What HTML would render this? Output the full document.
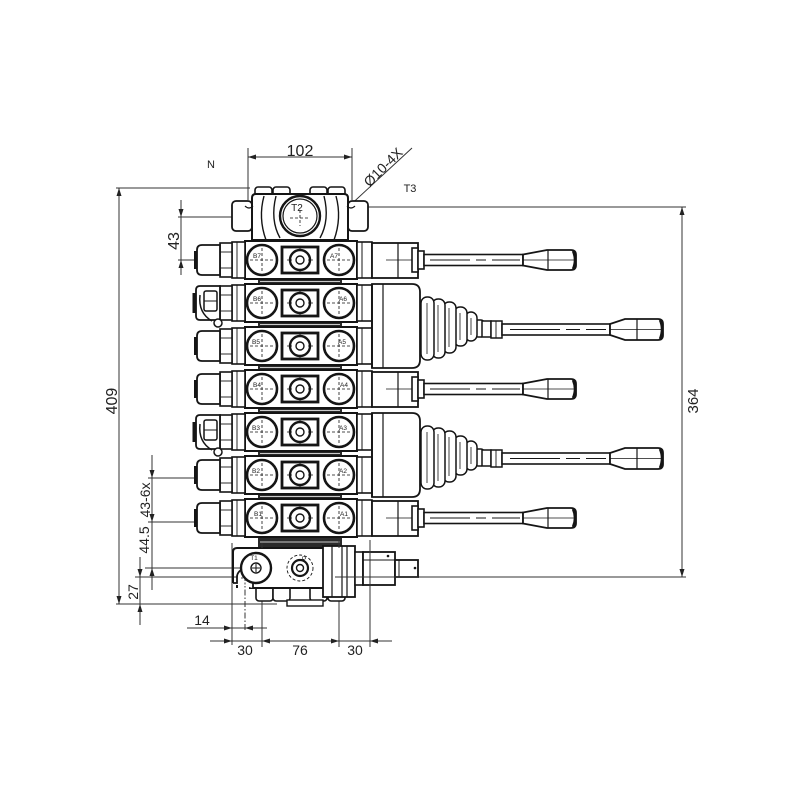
<!DOCTYPE html>
<html><head><meta charset="utf-8"><style>
html,body{margin:0;padding:0;background:#fff;}
svg{display:block;}
text{font-family:"Liberation Sans","DejaVu Sans",sans-serif;fill:#222;}
</style></head><body>
<svg width="800" height="800" viewBox="0 0 800 800" xmlns="http://www.w3.org/2000/svg">
<rect width="800" height="800" fill="#fff"/>
<defs>
 <g id="body" stroke="#151515" fill="#fff">
  <rect x="245" y="-19" width="112" height="38" stroke-width="2"/>
  <rect x="357" y="-18" width="15" height="36" stroke-width="1.6"/>
  <line x1="362" y1="-18" x2="362" y2="18" stroke-width="1"/>
  <rect x="232" y="-18" width="13" height="36" stroke-width="1.6"/>
  <line x1="237" y1="-18" x2="237" y2="18" stroke-width="0.9"/>
  <rect x="220" y="-17" width="12" height="34" stroke-width="1.6"/>
  <line x1="220" y1="-8" x2="232" y2="-8" stroke-width="0.9"/>
  <line x1="220" y1="8" x2="232" y2="8" stroke-width="0.9"/>
  <circle cx="262" cy="0" r="15" stroke-width="2.6"/>
  <circle cx="339" cy="0" r="15" stroke-width="2.6"/>
  <path d="M250 0H274M262 -12V12M327 0H351M339 -12V12" stroke-width="0.8" stroke-dasharray="3 2" fill="none"/>
  <rect x="282" y="-13" width="36" height="26" stroke-width="2.8" fill="none"/>
  <circle cx="300" cy="0" r="10" stroke-width="2.4"/>
  <circle cx="300" cy="0" r="4" stroke-width="1.4"/>
  <path d="M287 0H292M308 0H313M300 -12V-10M300 10V12" stroke-width="0.8" fill="none"/>
 </g>
 <g id="lcap" stroke="#151515" fill="#fff">
  <path d="M220 -15H202Q197 -15 197 -10V10Q197 15 202 15H220Z" stroke-width="1.8"/>
  <rect x="194" y="-9" width="3.5" height="18" fill="#151515" stroke="none"/>
 </g>
 <g id="lcapj" stroke="#151515" fill="#fff">
  <path d="M220 -17H200Q196 -17 196 -13V13Q196 17 200 17H220Z" stroke-width="1.8"/>
  <rect x="192.5" y="-10" width="3.5" height="20" fill="#151515" stroke="none"/>
  <rect x="204" y="-12" width="13" height="20" rx="2" stroke-width="1.5"/>
  <line x1="204" y1="-2" x2="217" y2="-2" stroke-width="1"/>
  <path d="M200 -8Q198 10 212 18" fill="none" stroke-width="1.5"/>
  <circle cx="218" cy="20" r="4" stroke-width="1.5"/>
 </g>
 <g id="lever" stroke="#151515" fill="#fff">
  <rect x="372" y="-17" width="46" height="35" stroke-width="1.8"/>
  <line x1="398" y1="-17" x2="398" y2="18" stroke-width="1.2"/>
  <line x1="386" y1="0" x2="413" y2="0" stroke-width="0.8"/>
  <rect x="412" y="-12" width="6" height="24" stroke-width="1.6"/>
  <rect x="418" y="-9" width="6" height="18" stroke-width="1.6"/>
  <rect x="424" y="-5.5" width="99" height="11" stroke-width="1.6"/>
  <path d="M430 0H470M476 0H486M492 0H520" stroke-width="0.9" fill="none"/>
  <path d="M523 -5.5L547 -10H571Q576 -10 576 -5V5Q576 10 571 10H547L523 5.5Z" stroke-width="1.8"/>
  <line x1="548" y1="-10" x2="548" y2="10" stroke-width="1.2"/>
  <line x1="523" y1="0" x2="574" y2="0" stroke-width="0.8"/>
  <path d="M573 -9Q577 0 573 9" stroke-width="2.5" fill="none"/>
 </g>
 <g id="joy" stroke="#151515" fill="#fff">
  <path d="M372 -45H412Q420 -45 420 -37V31Q420 39 412 39H372Z" stroke-width="1.8"/>
  <line x1="383" y1="-45" x2="383" y2="39" stroke-width="1.2"/>
  <line x1="372" y1="-45" x2="372" y2="39" stroke-width="1.8"/>
  <rect x="475" y="-9" width="9" height="17" rx="3" stroke-width="1.5"/>
  <rect x="465" y="-17" width="12" height="29" rx="6" stroke-width="1.5"/>
  <rect x="454" y="-22" width="13" height="39" rx="6" stroke-width="1.5"/>
  <rect x="443" y="-27" width="13" height="51" rx="6" stroke-width="1.5"/>
  <rect x="432" y="-30" width="13" height="59" rx="6" stroke-width="1.5"/>
  <rect x="421" y="-32" width="13" height="63" rx="6" stroke-width="1.5"/>
  <path d="M427 -26V25M438 -24V23M449 -21V18M460 -16V11M471 -11V6" stroke-width="0.8" fill="none"/>
  <rect x="482" y="-8" width="9" height="16" stroke-width="1.5"/>
  <rect x="491" y="-8" width="11" height="17" stroke-width="1.5"/>
  <line x1="496" y1="-8" x2="496" y2="9" stroke-width="0.9"/>
  <rect x="502" y="-5" width="108" height="11" stroke-width="1.6"/>
  <path d="M510 0.5H560M566 0.5H580M586 0.5H606" stroke-width="0.9" fill="none"/>
  <path d="M610 -5L625 -10H658Q663 -10 663 -5V6Q663 11 658 11H625L610 6Z" stroke-width="1.8"/>
  <line x1="637" y1="-10" x2="637" y2="11" stroke-width="1.2"/>
  <line x1="610" y1="0.5" x2="661" y2="0.5" stroke-width="0.8"/>
  <path d="M660 -9Q664 0 660 10" stroke-width="2.5" fill="none"/>
 </g>
</defs>

<!-- dimension & extension lines -->
<g stroke="#333" stroke-width="1" fill="none">
 <path d="M248 148V200M352 148V200M248 157H352"/>
 <path d="M412 148L332 222"/>
 <path d="M116 188H250M119 188V604M116 604H277"/>
 <path d="M178 217H233M178 260H197M181 200V275"/>
 <path d="M362 207H686M682 207V577M135 577H686"/>
 <path d="M148 478H197M148 522H197M145 568H245M152 455V590"/>
 <path d="M140 557V625"/>
 <path d="M232 543V645M262 588V647M339 588V647M370 540V647"/>
 <path d="M245 578V632" stroke-dasharray="6 2 1.5 2"/>
 <path d="M187 628H267M210 641H392"/>
</g>
<g fill="#222">
 <polygon points="248,157 256,154.5 256,159.5"/>
 <polygon points="352,157 344,154.5 344,159.5"/>
 <polygon points="119,188 116.5,196 121.5,196"/>
 <polygon points="119,604 116.5,596 121.5,596"/>
 <polygon points="181,217 178.5,209 183.5,209"/>
 <polygon points="181,260 178.5,268 183.5,268"/>
 <polygon points="682,207 679.5,215 684.5,215"/>
 <polygon points="682,577 679.5,569 684.5,569"/>
 <polygon points="152,478 149.5,470 154.5,470"/>
 <polygon points="152,522 149.5,514 154.5,514"/>
 <polygon points="152,568 149.5,576 154.5,576"/>
 <polygon points="140,577 137.5,569 142.5,569"/>
 <polygon points="140,604 137.5,612 142.5,612"/>
 <polygon points="232,628 224,625.5 224,630.5"/>
 <polygon points="245,628 253,625.5 253,630.5"/>
 <polygon points="232,641 224,638.5 224,643.5"/>
 <polygon points="262,641 270,638.5 270,643.5"/>
 <polygon points="339,641 331,638.5 331,643.5"/>
 <polygon points="370,641 378,638.5 378,643.5"/>
</g>

<!-- dark strips between sections -->
<g fill="#2a2a2a">
 <rect x="258" y="235" width="84" height="8"/>
 <rect x="258" y="277" width="84" height="9"/>
 <rect x="258" y="320" width="84" height="9"/>
 <rect x="258" y="363" width="84" height="9"/>
 <rect x="258" y="406" width="84" height="9"/>
 <rect x="258" y="449" width="84" height="9"/>
 <rect x="258" y="492" width="84" height="9"/>
 <rect x="258" y="535" width="84" height="14"/>
</g>
<g stroke="#fff" stroke-width="0.8">
 <path d="M260 281.5H340M260 324.5H340M260 367.5H340M260 410.5H340M260 453.5H340M260 496.5H340M260 542H340"/>
</g>

<!-- top cover -->
<g stroke="#151515" fill="#fff">
 <rect x="232" y="201" width="20" height="30" rx="4" stroke-width="1.8"/>
 <rect x="348" y="201" width="20" height="30" rx="4" stroke-width="1.8"/>
 <rect x="255" y="187" width="17" height="12" rx="3" stroke-width="1.6"/>
 <rect x="273" y="187" width="17" height="12" rx="3" stroke-width="1.6"/>
 <rect x="310" y="187" width="17" height="12" rx="3" stroke-width="1.6"/>
 <rect x="328" y="187" width="17" height="12" rx="3" stroke-width="1.6"/>
 <path d="M252 240V198Q252 194 256 194H344Q348 194 348 198V240Z" stroke-width="2"/>
 <path d="M264 196Q258 218 266 240M336 196Q342 218 334 240M276 196Q270 220 280 238M324 196Q330 220 320 238" fill="none" stroke-width="1.4"/>
 <circle cx="300" cy="216" r="20" stroke-width="2.4"/>
 <circle cx="300" cy="216" r="17" stroke-width="1.2"/>
 <path d="M290 218H310M300 210V226" stroke-width="0.8" stroke-dasharray="3 2" fill="none"/>
 <path d="M245 206Q249 210 253 206M347 206Q351 210 355 206" fill="none" stroke-width="1.2"/>
</g>

<!-- sections -->
<use href="#body" y="260"/>
<use href="#body" y="303"/>
<use href="#body" y="346"/>
<use href="#body" y="389"/>
<use href="#body" y="432"/>
<use href="#body" y="475"/>
<use href="#body" y="518"/>
<use href="#lcap" y="260"/>
<use href="#lcapj" y="303"/>
<use href="#lcap" y="346"/>
<use href="#lcap" y="389"/>
<use href="#lcapj" y="432"/>
<use href="#lcap" y="475"/>
<use href="#lcap" y="518"/>
<use href="#lever" y="260"/>
<use href="#lever" y="389"/>
<use href="#lever" y="518"/>
<use href="#joy" y="329"/>
<use href="#joy" y="458"/>

<!-- inlet section -->
<g stroke="#151515" fill="#fff">
 <rect x="256" y="586" width="17" height="15" rx="3" stroke-width="1.6"/>
 <rect x="273" y="586" width="17" height="15" rx="3" stroke-width="1.6"/>
 <rect x="310" y="586" width="17" height="15" rx="3" stroke-width="1.6"/>
 <rect x="328" y="586" width="17" height="15" rx="3" stroke-width="1.6"/>
 <rect x="287" y="600" width="36" height="6" stroke-width="1.4"/>
 <path d="M237 548H325V588H250V585M237 588V585" stroke-width="2" fill="#fff"/>
 <path d="M233 583V552Q233 548 237 548" stroke-width="2" fill="none"/>
 <path d="M233 583H237V577A8 8 0 0 1 253 577V588" stroke-width="1.8"/>
 <path d="M245 572V586M241 578H249" stroke-width="0.8" stroke-dasharray="2 1.5"/>
 <circle cx="256" cy="568" r="15" stroke-width="2.4"/>
 <circle cx="256" cy="568" r="5" stroke-width="1.4"/>
 <path d="M252 568H260M256 564V572" stroke-width="1"/>
 <circle cx="300" cy="568" r="13" stroke-width="0.9" stroke-dasharray="3 2"/>
 <circle cx="300" cy="568" r="8" stroke-width="2.2"/>
 <circle cx="300" cy="568" r="3.5" stroke-width="1.4"/>
 <rect x="323" y="546" width="32" height="51" stroke-width="1.8"/>
 <path d="M332 546V597M342 546V597M347 546V597" stroke-width="1.2"/>
 <rect x="355" y="552" width="8" height="33" stroke-width="1.6"/>
 <rect x="363" y="552" width="32" height="33" stroke-width="1.8"/>
 <path d="M363 560H395M363 577H395" stroke-width="1.1"/>
 <rect x="395" y="560" width="23" height="17" stroke-width="1.8"/>
 <line x1="399" y1="560" x2="399" y2="577" stroke-width="1"/>
</g>
<circle cx="388" cy="556" r="1.3" fill="#151515"/>
<circle cx="415" cy="568" r="1.3" fill="#151515"/>
<path d="M370 546V597M339 540V548M262 543V548" stroke="#333" stroke-width="1" fill="none"/>
<path d="M335 577H418" stroke="#333" stroke-width="1"/>

<!-- port labels -->
<g font-size="6.5" text-anchor="middle">
 <text x="257" y="258">B7</text><text x="334" y="258">A7</text>
 <text x="257" y="301">B6</text><text x="343" y="301">A6</text>
 <text x="256" y="344">B5</text><text x="342" y="344">A5</text>
 <text x="257" y="387">B4</text><text x="344" y="387">A4</text>
 <text x="256" y="430">B3</text><text x="343" y="430">A3</text>
 <text x="256" y="473">B2</text><text x="343" y="473">A2</text>
 <text x="258" y="516">B1</text><text x="344" y="516">A1</text>
 <text x="254" y="560">T1</text><text x="304" y="561">P</text>
</g>
<text x="297" y="211" font-size="10" text-anchor="middle">T2</text>

<!-- dimension texts -->
<g font-size="15" text-anchor="middle">
 <text x="300" y="156" font-size="16">102</text>
 <text x="211" y="168" font-size="11">N</text>
 <text x="410" y="192" font-size="11">T3</text>
 <text x="383" y="172" transform="rotate(-45 383 167)" font-size="14">Ø10-4X</text>
 <text x="174" y="246" transform="rotate(-90 174 241)" font-size="16">43</text>
 <text x="111" y="407" transform="rotate(-90 111 401)" font-size="16">409</text>
 <text x="693" y="406" transform="rotate(-90 693 401)" font-size="15">364</text>
 <text x="145" y="505" transform="rotate(-90 145 500)" font-size="14">43-6x</text>
 <text x="144" y="545" transform="rotate(-90 144 540)" font-size="14">44.5</text>
 <text x="133" y="597" transform="rotate(-90 133 592)" font-size="14">27</text>
 <text x="202" y="625" font-size="14">14</text>
 <text x="245" y="655" font-size="14">30</text>
 <text x="300" y="655" font-size="14">76</text>
 <text x="355" y="655" font-size="14">30</text>
</g>
</svg>
</body></html>
